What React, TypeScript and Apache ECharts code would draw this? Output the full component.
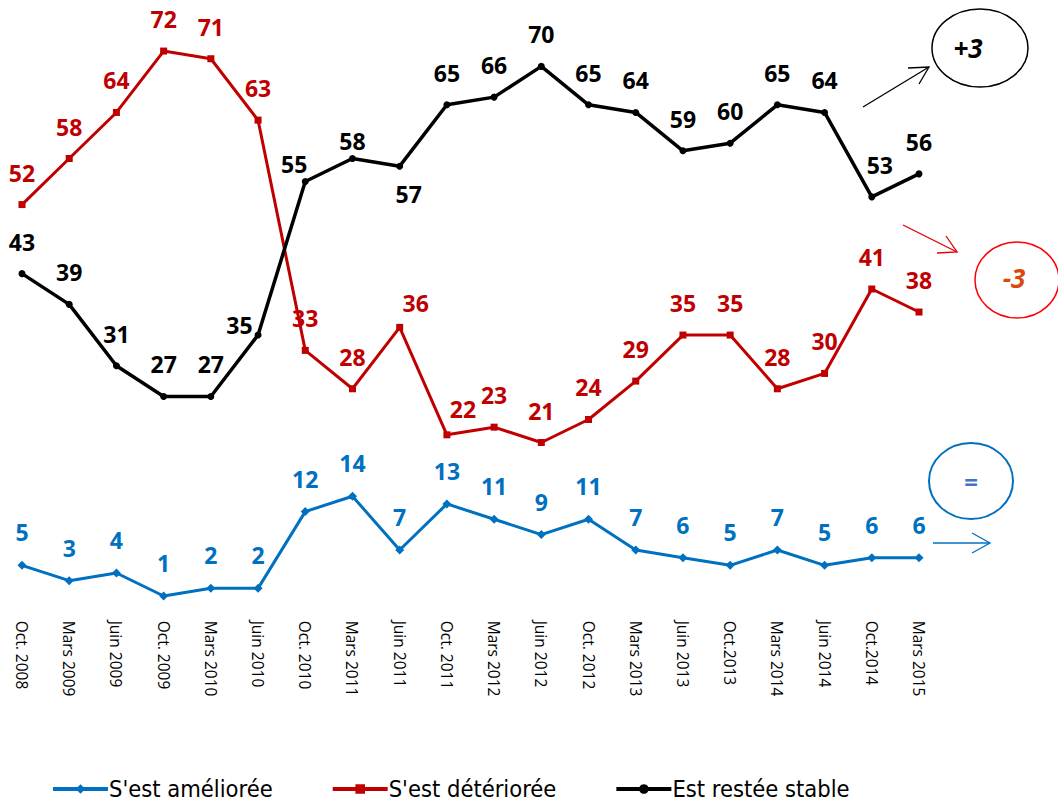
import React, { useEffect, useRef } from "react";
import * as echarts from "echarts";

const categories = ["Oct. 2008","Mars 2009","Juin 2009","Oct. 2009","Mars 2010","Juin 2010","Oct. 2010","Mars 2011","Juin 2011","Oct. 2011","Mars 2012","Juin 2012","Oct. 2012","Mars 2013","Juin 2013","Oct.2013","Mars 2014","Juin 2014","Oct.2014","Mars 2015"];
const ameliore = [5,3,4,1,2,2,12,14,7,13,11,9,11,7,6,5,7,5,6,6];
const deteriore = [52,58,64,72,71,63,33,28,36,22,23,21,24,29,35,35,28,30,41,38];
const stable = [43,39,31,27,27,35,55,58,57,65,66,70,65,64,59,60,65,64,53,56];

const BLUE = "#0070C0";
const RED = "#C00000";
const BLACK = "#000000";
const LABEL_FONT = "'Open Sans', 'Noto Sans', sans-serif";

export default function App() {
  const ref = useRef<HTMLDivElement>(null);
  useEffect(() => {
    if (!ref.current) return;
    const chart = echarts.init(ref.current, null, { renderer: "svg" });
    const lbl = (color: string) => ({
      show: true,
      position: "top",
      distance: 17,
      color,
      fontFamily: LABEL_FONT,
      fontWeight: "bold",
      fontSize: 23,
    });
    const redData = deteriore.map((v, i) => {
      if (i === 8) return { value: v, label: { offset: [16, 8] } };
      if (i === 9) return { value: v, label: { offset: [16, 6] } };
      return v;
    });
    const blackData = stable.map((v, i) => {
      if (i === 5) return { value: v, label: { position: "left", distance: 2, offset: [0, -10] } };
      if (i === 6) return { value: v, label: { distance: 3, offset: [-11, 0] } };
      if (i === 7) return { value: v, label: { distance: 3 } };
      if (i === 8) return { value: v, label: { position: "bottom", distance: 13, offset: [9, 0] } };
      if (i === 18) return { value: v, label: { offset: [8, 0] } };
      return v;
    });
    chart.setOption({
      animation: false,
      backgroundColor: "#ffffff",
      grid: { left: 22, right: 139, top: 5, bottom: 200.3, containLabel: false },
      xAxis: {
        type: "category",
        data: categories,
        boundaryGap: false,
        axisLine: { show: false },
        axisTick: { show: false },
        axisLabel: {
          rotate: -90,
          margin: 17,
          color: "#000",
          fontSize: 15.5,
          fontFamily: LABEL_FONT,
          interval: 0,
        },
      },
      yAxis: {
        type: "value",
        min: 0,
        max: 78,
        show: false,
        splitLine: { show: false },
      },
      legend: {
        bottom: -2,
        left: 46,
        itemWidth: 55,
        itemHeight: 12,
        itemGap: 58,
        lineStyle: { width: 4 },
        textStyle: {
          fontFamily: "'Liberation Sans Narrow', 'DejaVu Sans Condensed', sans-serif",
          fontSize: 23.5,
          color: "#000",
          padding: [0, 0, 0, -4],
        },
        data: ["S'est améliorée", "S'est détériorée", "Est restée stable"],
      },
      series: [
        {
          name: "S'est améliorée",
          type: "line",
          data: ameliore,
          color: BLUE,
          symbol: "diamond",
          symbolSize: 9,
          lineStyle: { width: 3, color: BLUE },
          itemStyle: { color: BLUE },
          label: lbl(BLUE),
        },
        {
          name: "S'est détériorée",
          type: "line",
          data: redData,
          color: RED,
          symbol: "rect",
          symbolSize: 7,
          lineStyle: { width: 3, color: RED },
          itemStyle: { color: RED },
          label: lbl(RED),
        },
        {
          name: "Est restée stable",
          type: "line",
          data: blackData,
          color: BLACK,
          symbol: "circle",
          symbolSize: 7,
          lineStyle: { width: 3.5, color: BLACK },
          itemStyle: { color: BLACK },
          label: lbl(BLACK),
        },
      ],
      graphic: [
        { type: "ellipse", shape: { cx: 980, cy: 48, rx: 48, ry: 39 }, style: { fill: "none", stroke: "#000", lineWidth: 1.5 } },
        { type: "text", x: 968, y: 48, style: { text: "+3", fill: "#000", font: "italic bold 26px 'Open Sans', sans-serif", align: "center", verticalAlign: "middle" } },
        { type: "line", shape: { x1: 863, y1: 107, x2: 929, y2: 67 }, style: { stroke: "#000", lineWidth: 1.3 } },
        { type: "polyline", shape: { points: [[908, 68], [929, 67], [919, 84]] }, style: { stroke: "#000", lineWidth: 1.3, fill: "none" } },

        { type: "ellipse", shape: { cx: 1017, cy: 280, rx: 42, ry: 38 }, style: { fill: "none", stroke: "#FF0000", lineWidth: 1.5 } },
        { type: "text", x: 1014, y: 278, style: { text: "-3", fill: "#D9480F", font: "italic bold 26px 'Open Sans', sans-serif", align: "center", verticalAlign: "middle" } },
        { type: "line", shape: { x1: 903, y1: 225, x2: 957, y2: 252 }, style: { stroke: "#E00000", lineWidth: 1.3 } },
        { type: "polyline", shape: { points: [[946, 236], [957, 252], [937, 253]] }, style: { stroke: "#E00000", lineWidth: 1.3, fill: "none" } },

        { type: "ellipse", shape: { cx: 971, cy: 481, rx: 42, ry: 38 }, style: { fill: "none", stroke: BLUE, lineWidth: 2 } },
        { type: "text", x: 971, y: 481, style: { text: "=", fill: "#4472C4", font: "bold 24px 'Open Sans', sans-serif", align: "center", verticalAlign: "middle" } },
        { type: "line", shape: { x1: 933, y1: 543, x2: 990, y2: 543 }, style: { stroke: BLUE, lineWidth: 1.3 } },
        { type: "polyline", shape: { points: [[972, 533], [990, 543], [972, 553]] }, style: { stroke: BLUE, lineWidth: 1.3, fill: "none" } },
      ],
    });
    return () => chart.dispose();
  }, []);
  return (
    <div
      ref={ref}
      style={{ position: "fixed", left: 0, top: 0, width: 1058, height: 804, background: "#fff" }}
    />
  );
}
